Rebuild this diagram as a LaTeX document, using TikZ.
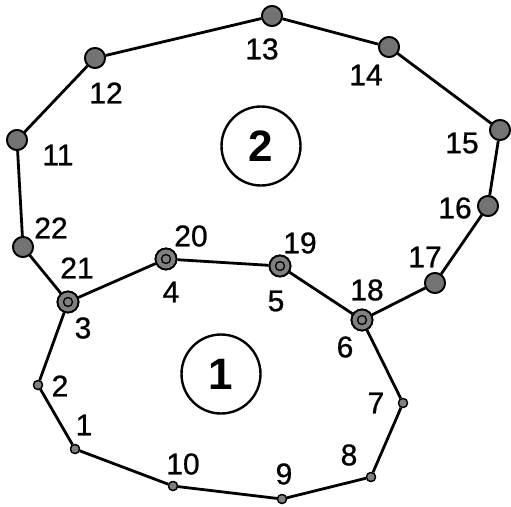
\documentclass[tikz,border=0pt]{standalone}
\usepackage{fontspec}
\setmainfont{Liberation Sans}
\newfontfamily\numfont{Liberation Sans}[FakeBold=0.8]
\usepackage{tikz}
\usetikzlibrary{positioning}

\begin{document}
\begin{tikzpicture}[x=1pt,y=-1pt,
  edge/.style={line width=2.8pt},
  big/.style={circle,draw,line width=1.8pt,fill=gray!90!black,minimum size=20pt,inner sep=0pt},
  dot/.style={circle,draw,line width=1.3pt,fill=gray,minimum size=9pt,inner sep=0pt},
  ring/.style={circle,draw,line width=1.8pt,fill=gray,minimum size=21pt,inner sep=0pt},
  hole/.style={circle,draw,line width=1.3pt,fill=gray,minimum size=9pt,inner sep=0pt},
  lab/.style={font=\numfont\fontsize{30}{30}\selectfont,inner sep=0pt},
  zone/.style={circle,draw,line width=2.4pt,minimum size=79pt,inner sep=0pt,font=\fontsize{44}{44}\selectfont\bfseries}]
\useasboundingbox (0,0) rectangle (511,506);
% region labels
\node[zone] (z1) at (221,374) {1};
\node[zone] (z2) at (261,146) {2};
% outer nodes
\node[big] (q11) at (17,140) {};
\node[big] (q12) at (95,58) {};
\node[big] (q13) at (272,16) {};
\node[big] (q14) at (389,47) {};
\node[big] (q15) at (500,130) {};
\node[big] (q16) at (488,206) {};
\node[big] (q17) at (435,283) {};
\node[big] (q22) at (23,247) {};
% shared nodes
\node[ring] (p3) at (68,302) {};
\node[ring] (p4) at (166,259) {};
\node[ring] (p5) at (280,266) {};
\node[ring] (p6) at (362,320) {};
% lower nodes
\node[dot] (p1) at (75,449) {};
\node[dot] (p2) at (38,385) {};
\node[dot] (p7) at (403,403) {};
\node[dot] (p8) at (371,477) {};
\node[dot] (p9) at (282,499) {};
\node[dot] (p10) at (173,486) {};
% edges
\draw[edge] (q22) -- (q11) -- (q12) -- (q13) -- (q14) -- (q15) -- (q16) -- (q17) -- (p6);
\draw[edge] (q22) -- (p3) -- (p4) -- (p5) -- (p6);
\draw[edge] (p3) -- (p2) -- (p1) -- (p10) -- (p9) -- (p8) -- (p7) -- (p6);
% redraw nodes on top
\foreach \n in {q11,q12,q13,q14,q15,q16,q17,q22}
  \node[big] at (\n) {};
\foreach \n in {p1,p2,p7,p8,p9,p10}
  \node[dot] at (\n) {};
\foreach \n in {p3,p4,p5,p6}
  {\node[ring] at (\n) {}; \node[hole] at (\n) {};}
% numbers
\node[lab] (l1) at (84,425) {1};
\node[lab] (l2) at (60,386) {2};
\node[lab] (l3) at (83,328) {3};
\node[lab] (l4) at (171,292) {4};
\node[lab] (l5) at (276,301) {5};
\node[lab] (l6) at (345,347) {6};
\node[lab] (l7) at (376,403) {7};
\node[lab] (l8) at (349,455) {8};
\node[lab] (l9) at (284,474) {9};
\node[lab] (l10) at (183,464) {10};
\node[lab] (l11) at (58,155) {11};
\node[lab] (l12) at (106,93) {12};
\node[lab] (l13) at (262,49) {13};
\node[lab] (l14) at (366,75) {14};
\node[lab] (l15) at (462,143) {15};
\node[lab] (l16) at (455,208) {16};
\node[lab] (l17) at (425,257) {17};
\node[lab] (l18) at (367,290) {18};
\node[lab] (l19) at (300,243) {19};
\node[lab] (l20) at (191,236) {20};
\node[lab] (l21) at (77,268) {21};
\node[lab] (l22) at (51,228) {22};
\end{tikzpicture}
\end{document}
